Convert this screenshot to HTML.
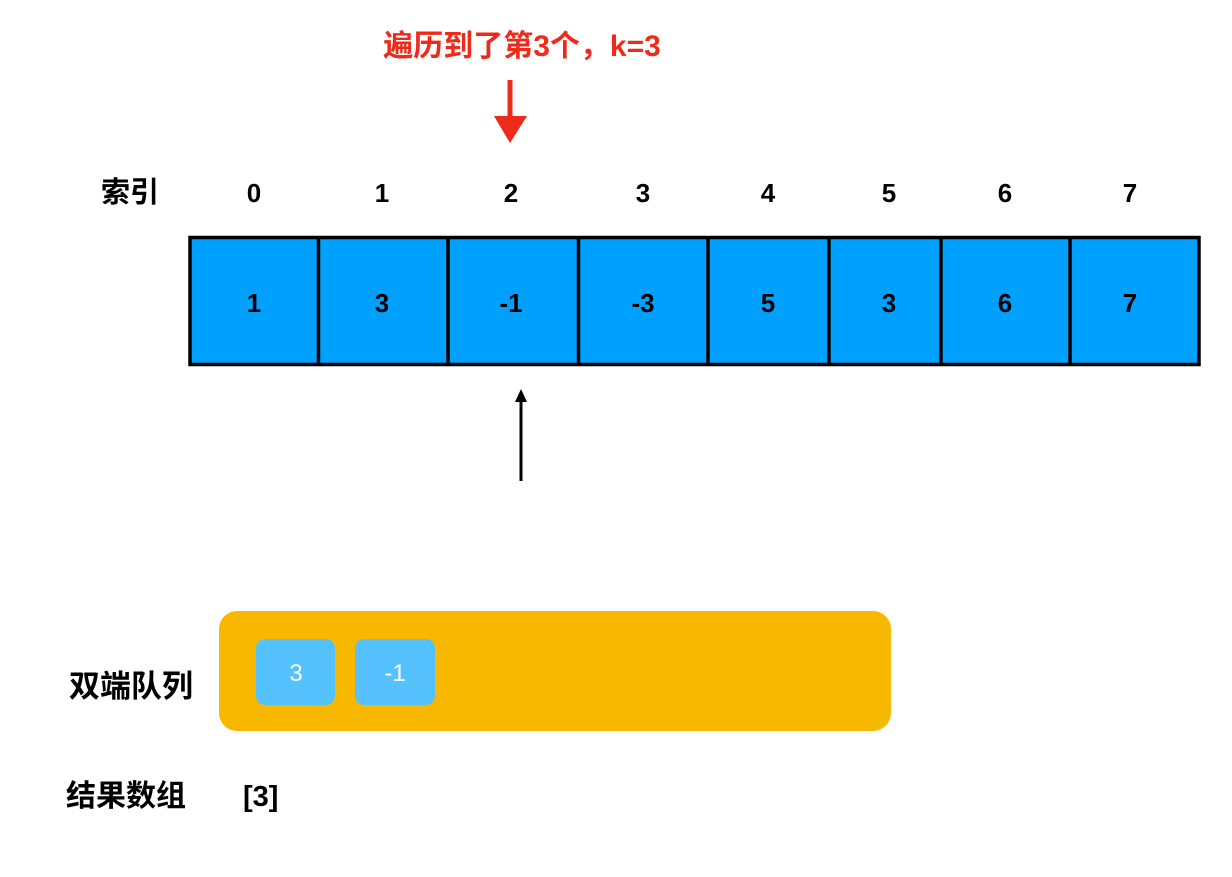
<!DOCTYPE html>
<html><head><meta charset="utf-8"><style>
html,body{margin:0;padding:0;background:#fff;}
svg text{font-family:"Liberation Sans","Noto Sans CJK SC",sans-serif;font-weight:bold;}
</style></head><body>
<svg width="1232" height="872" viewBox="0 0 1232 872" xmlns="http://www.w3.org/2000/svg">
<rect width="1232" height="872" fill="#fff"/>
<text x="522" y="56" font-size="30" fill="#ee2a1b" text-anchor="middle">遍历到了第3个，k=3</text>
<line x1="510" y1="80" x2="510" y2="118" stroke="#ee2a1b" stroke-width="5"/>
<polygon points="494,116 527,116 510,143" fill="#ee2a1b"/>
<text x="130" y="202" font-size="29" fill="#000" text-anchor="middle">索引</text>
<g font-size="26" fill="#000" text-anchor="middle">
<text x="254" y="202">0</text><text x="382" y="202">1</text><text x="511" y="202">2</text><text x="643" y="202">3</text>
<text x="768" y="202">4</text><text x="889" y="202">5</text><text x="1005" y="202">6</text><text x="1130" y="202">7</text>
</g>
<rect x="190" y="237.5" width="1009" height="127" fill="#00a0ff" stroke="#000" stroke-width="3.5"/>
<g stroke="#000" stroke-width="3.5">
<line x1="318.5" y1="237" x2="318.5" y2="365"/><line x1="448" y1="237" x2="448" y2="365"/>
<line x1="578.5" y1="237" x2="578.5" y2="365"/><line x1="708" y1="237" x2="708" y2="365"/>
<line x1="829" y1="237" x2="829" y2="365"/><line x1="941" y1="237" x2="941" y2="365"/>
<line x1="1070" y1="237" x2="1070" y2="365"/>
</g>
<g font-size="26" fill="#000" text-anchor="middle">
<text x="254" y="312">1</text><text x="382" y="312">3</text><text x="511" y="312">-1</text><text x="643" y="312">-3</text>
<text x="768" y="312">5</text><text x="889" y="312">3</text><text x="1005" y="312">6</text><text x="1130" y="312">7</text>
</g>
<line x1="521" y1="481" x2="521" y2="400" stroke="#000" stroke-width="3"/>
<polygon points="515,402 527,402 521,389" fill="#000"/>
<rect x="219" y="611" width="672" height="120" rx="18" fill="#f8b800"/>
<rect x="256" y="639" width="79" height="66" rx="9" fill="#56c1ff"/>
<rect x="355" y="639" width="80" height="66" rx="9" fill="#56c1ff"/>
<text x="296" y="681" font-size="24" fill="#fff" text-anchor="middle" style="font-weight:normal">3</text>
<text x="395" y="681" font-size="24" fill="#fff" text-anchor="middle" style="font-weight:normal">-1</text>
<text x="131" y="697" font-size="31" fill="#000" text-anchor="middle">双端队列</text>
<text x="126" y="806" font-size="30" fill="#000" text-anchor="middle">结果数组</text>
<text x="243" y="806" font-size="29" fill="#000">[3]</text>
</svg>
</body></html>
